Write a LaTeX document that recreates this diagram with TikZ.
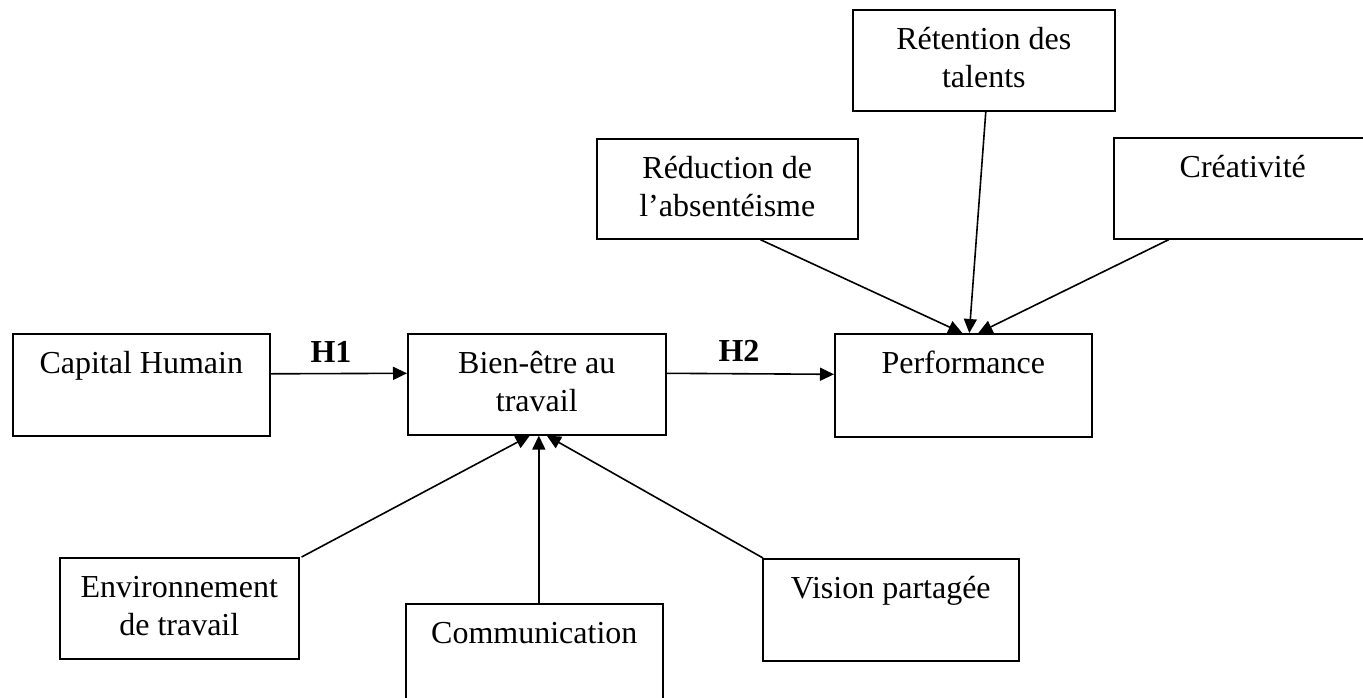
\documentclass[tikz,border=0pt]{standalone}
\usepackage{fontspec}
\setmainfont{Liberation Serif}
\usetikzlibrary{arrows.meta}
\newcommand{\bxt}[3]{\parbox[t][#2pt][t]{#1pt}{\centering\rule{0pt}{40pt}#3}}
\tikzset{
  box/.style={draw, line width=1.6pt, inner sep=0pt, anchor=north west},
  conn/.style={line width=1.6pt, -{Triangle[length=14pt,width=13pt]}},
  lbl/.style={inner sep=0pt, anchor=base, font=\bfseries}
}
\begin{document}
\begin{tikzpicture}[x=1pt,y=-1pt]
\fontsize{32}{38}\selectfont
\clip (0,0) rectangle (1363,697);
\fill[white] (0,0) rectangle (1363,697);
% boxes
\node[box] (ch)  at (12,333)   {\bxt{257}{102}{Capital Humain}};
\node[box] (be)  at (407,333)  {\bxt{258}{101}{Bien-être au\\travail}};
\node[box] (pf)  at (834,333)  {\bxt{257}{103}{Performance}};
\node[box] (red) at (596,138)  {\bxt{261}{100}{Réduction de\\l’absentéisme}};
\node[box] (rtn) at (852,9)    {\bxt{262}{101}{Rétention des\\talents}};
\node[box] (cre) at (1113,137) {\bxt{258}{101}{Créativité}};
\node[box] (env) at (59,557)   {\bxt{239}{101}{Environnement\\de travail}};
\node[box] (com) at (405,603)  {\bxt{257}{102}{Communication}};
\node[box] (vis) at (762,558)  {\bxt{256}{102}{Vision partagée}};
% H arrows
\draw[conn] ([yshift=11pt]ch.east) -- ([yshift=11pt]be.west);
\draw[conn] ([yshift=11pt]be.east) -- ([yshift=11pt]pf.west);
\node[lbl] (h1) at (331,362) {H1};
\node[lbl] (h2) at (739,361) {H2};
% into Performance
\draw[conn] ([xshift=33pt]red.south) -- ([xshift=-1pt]pf.north);
\draw[conn] ([xshift=2pt]rtn.south) -- ([xshift=6pt]pf.north);
\draw[conn] ([xshift=-74pt]cre.south) -- ([xshift=15pt]pf.north);
% into Bien-etre
\draw[conn] ([xshift=2pt]env.north east) -- ([xshift=-7pt]be.south);
\draw[conn] ([xshift=4.5pt]com.north) -- ([xshift=2pt]be.south);
\draw[conn] ([xshift=1pt]vis.north west) -- ([xshift=10pt]be.south);
\end{tikzpicture}
\end{document}
